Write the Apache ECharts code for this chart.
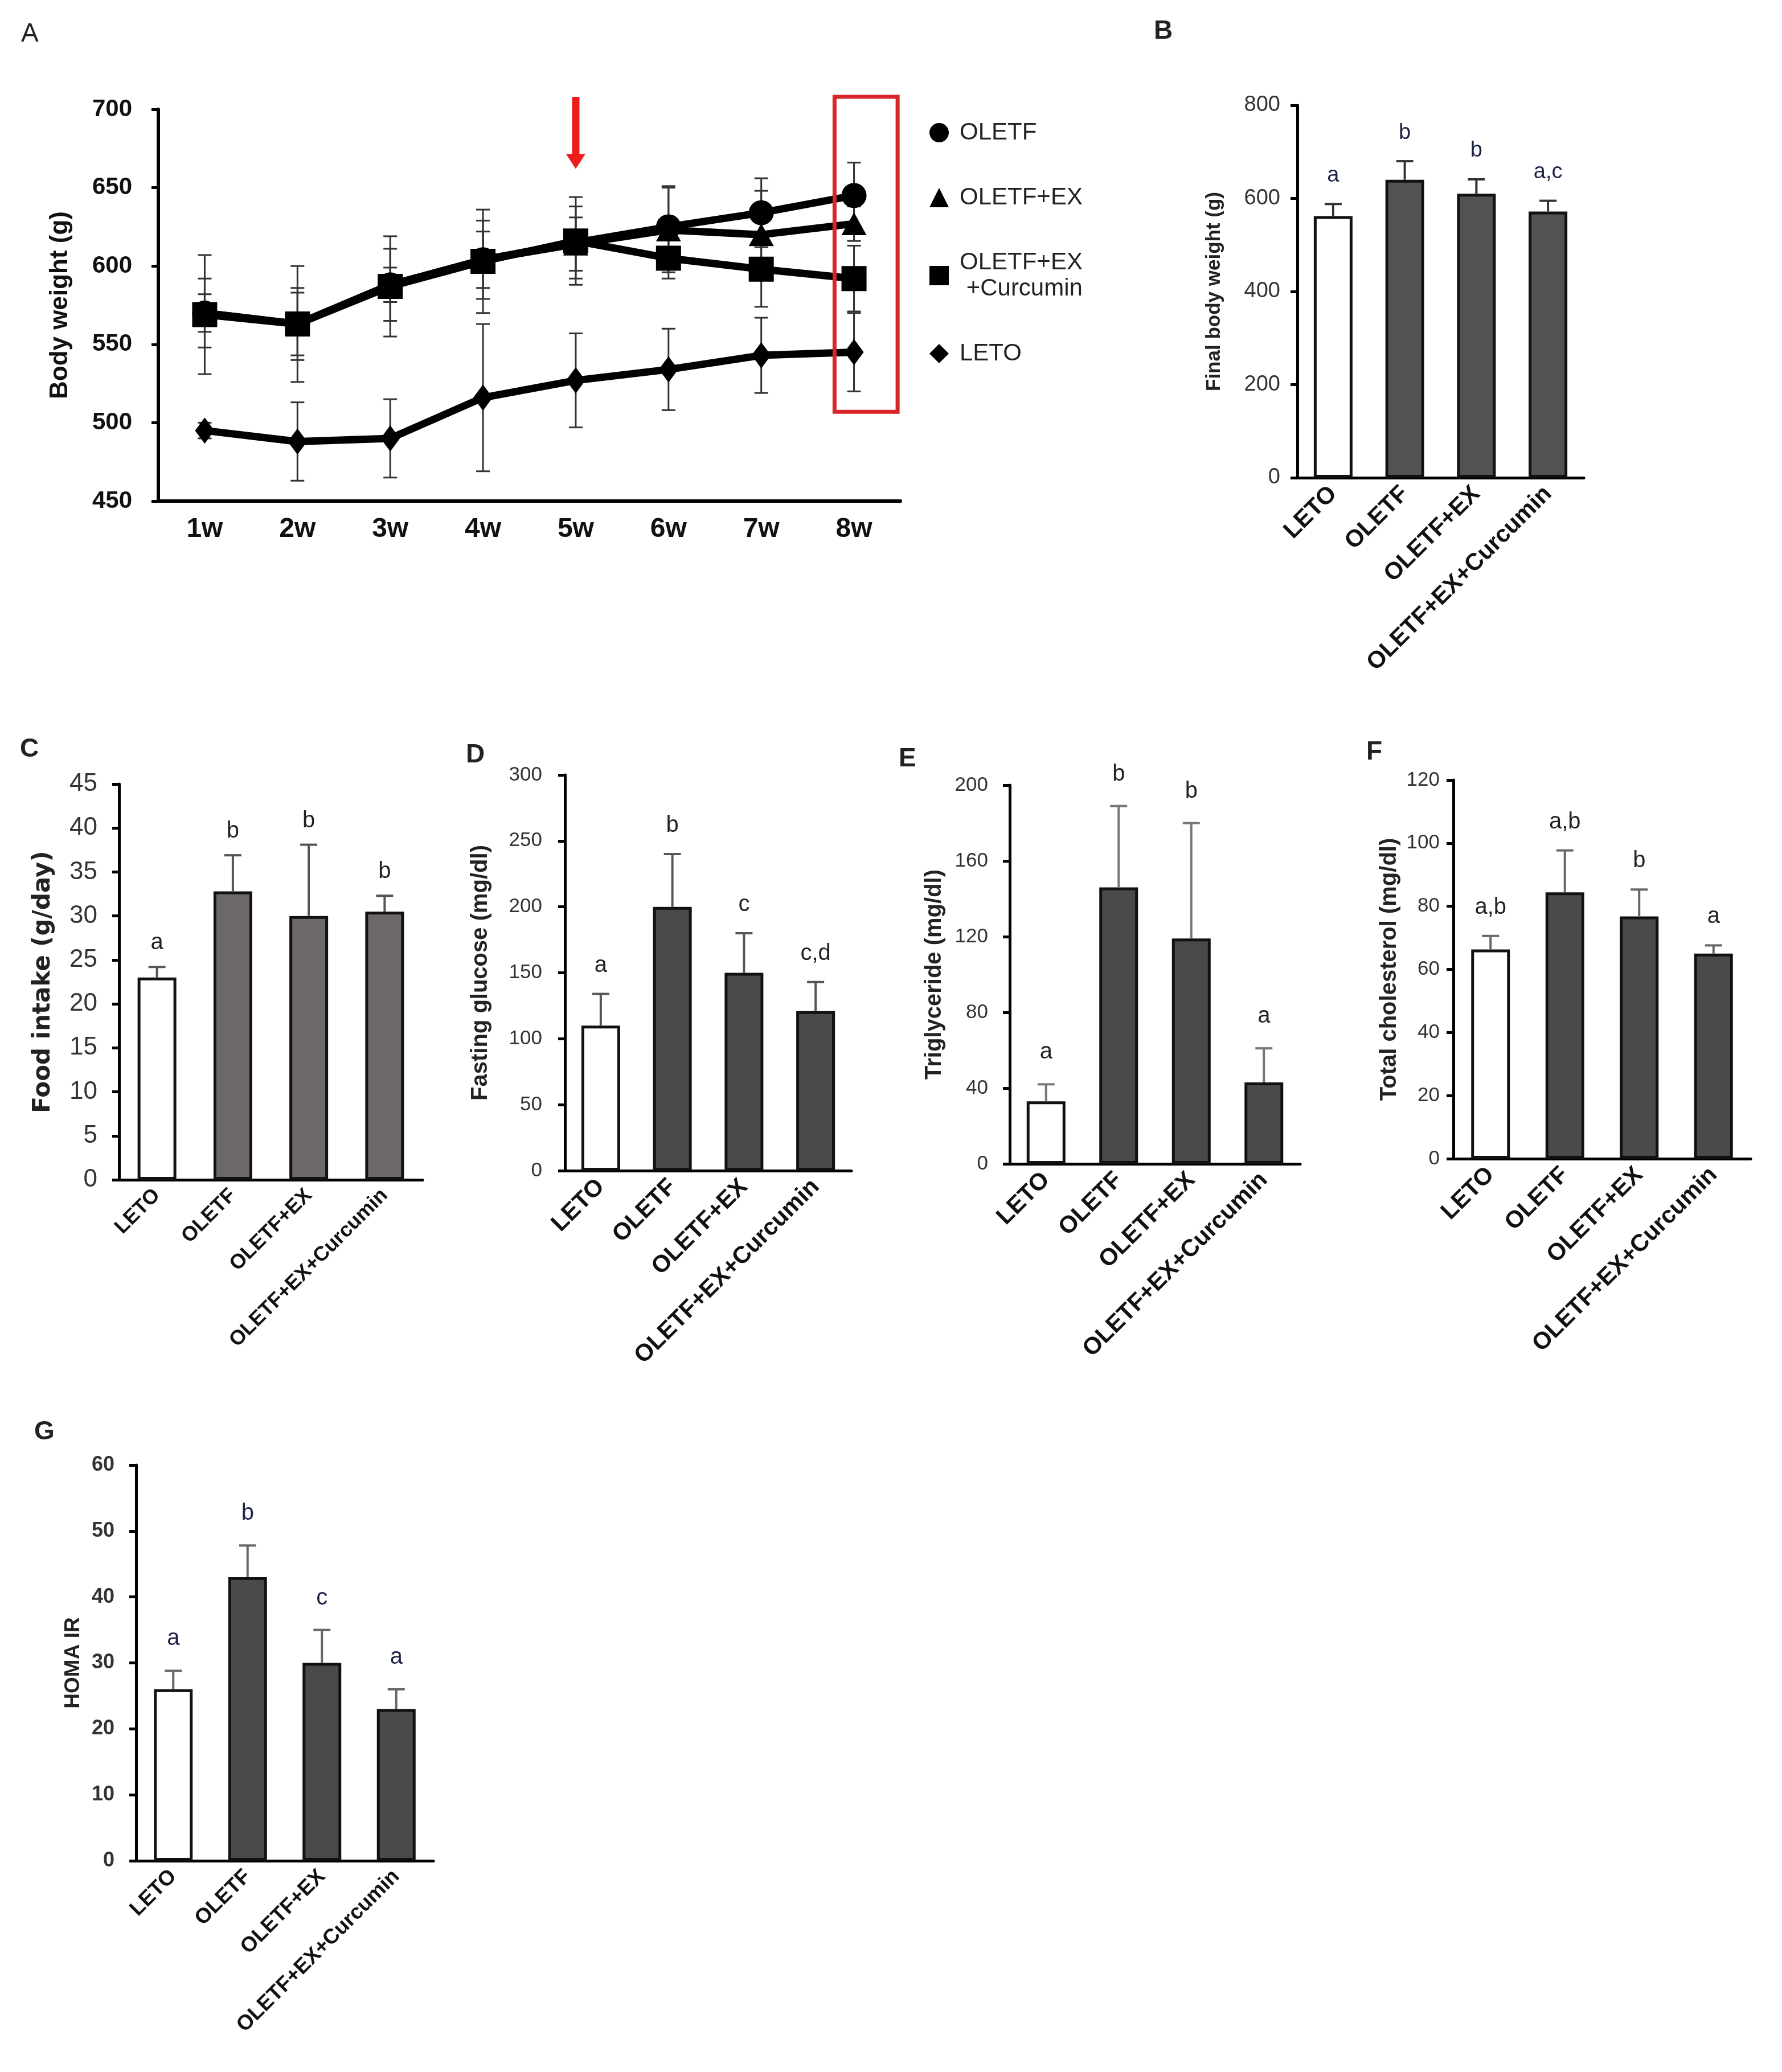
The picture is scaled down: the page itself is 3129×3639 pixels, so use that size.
<!DOCTYPE html>
<html>
<head>
    <meta charset="utf-8">
    <title>OLETF body weight and metabolic markers</title>
    <style>
        *{
            margin: 0;
            padding: 0;
        }
        body{
            background: #fff;
        }
        #main{
            width: 3129px;
            height: 3639px;
        }
    </style>
    <script src="https://cdn.jsdelivr.net/npm/echarts@6/dist/echarts.min.js"></script>
</head>
<body>
    <div id="main"></div>
    <script type="text/javascript">
        // ---- data ----
        // A: body weight (g) per week
        const weeks = ['1w', '2w', '3w', '4w', '5w', '6w', '7w', '8w'];
        const oletfBW = [570, 563, 588, 604, 615, 625, 634, 645];
        const oletfBWErr = [12, 20, 23, 25, 23, 26, 22, 21];
        const oletfExBW = [570, 563, 588, 604, 614, 623, 620, 627];
        const oletfExBWErr = [22, 23, 11, 18, 17, 27, 28, 11];
        const curcBW = [569, 563, 587, 603, 616, 605, 598, 592];
        const curcBWErr = [38, 37, 32, 33, 28, 13, 24, 21];
        const letoBW = [495, 488, 490, 516, 527, 534, 543, 545];
        const letoBWErr = [5, 25, 25, 47, 30, 26, 24, 25];
        // red box around week 8 (g), arrow at week 5
        const boxRange = [7, 507, 708];
        const arrowRange = [4, 708, 662];

        // B-G: four groups
        const groups = ['LETO', 'OLETF', 'OLETF+EX', 'OLETF+EX+Curcumin'];
        const finalBW = [562, 640, 610, 572];
        const finalBWErr = [26, 40, 31, 23];
        const finalBWSig = ['a', 'b', 'b', 'a,c'];
        const food = [23.0, 32.8, 30.0, 30.5];
        const foodErr = [1.2, 4.1, 8.1, 1.8];
        const foodSig = ['a', 'b', 'b', 'b'];
        const glucose = [110, 200, 150, 121];
        const glucoseErr = [24, 40, 30, 22];
        const glucoseSig = ['a', 'b', 'c', 'c,d'];
        const tg = [33, 146, 119, 43];
        const tgErr = [9, 43, 61, 18];
        const tgSig = ['a', 'b', 'b', 'a'];
        const tchol = [66.3, 84.4, 76.8, 65];
        const tcholErr = [4.3, 13.3, 8.5, 2.6];
        const tcholSig = ['a,b', 'a,b', 'b', 'a'];
        const homa = [26, 43, 30, 23];
        const homaErr = [2.8, 4.8, 5, 3];
        const homaSig = ['a', 'b', 'c', 'a'];

        // ---- layout helpers (reference drawn at 1350 wide) ----
        const S = 3129 / 1350;
        const px = v => Math.round(v * S);
        const ARIAL = '"Liberation Sans", Arial, sans-serif';
        const VERD = '"DejaVu Sans", Verdana, sans-serif';

        function gridOf(l, t, r, b) {
            return { left: px(l), top: px(t), width: px(r - l), height: px(b - t) };
        }

        const grids = [];
        const xAxes = [];
        const yAxes = [];
        const series = [];
        const graphics = [];

        // ---- panel A ----
        grids.push(gridOf(120, 83, 682, 380));
        xAxes.push({
            gridIndex: 0, type: 'category', data: weeks,
            axisLine: { lineStyle: { color: '#000', width: 6 } },
            axisTick: { alignWithLabel: true, length: 14, lineStyle: { color: '#000', width: 5 } },
            axisLabel: { color: '#111', fontFamily: ARIAL, fontWeight: 'bold', fontSize: 48, margin: 26 }
        });
        yAxes.push({
            gridIndex: 0, type: 'value', min: 450, max: 700, interval: 50,
            name: 'Body weight (g)', nameLocation: 'middle', nameRotate: 90, nameGap: 150,
            nameTextStyle: { color: '#111', fontFamily: ARIAL, fontWeight: 'bold', fontSize: 44 },
            splitLine: { show: false },
            axisLine: { show: true, lineStyle: { color: '#000', width: 6 } },
            axisTick: { show: true, length: 12, lineStyle: { color: '#000', width: 5 } },
            axisLabel: { color: '#111', fontFamily: ARIAL, fontWeight: 'bold', fontSize: 42, margin: 46 }
        });

        const lineDefs = [
            { name: 'OLETF', vals: oletfBW, errs: oletfBWErr, symbol: 'circle', size: 44 },
            { name: 'OLETF+EX', vals: oletfExBW, errs: oletfExBWErr, symbol: 'triangle', size: [44, 40] },
            { name: 'OLETF+EX+Curcumin', vals: curcBW, errs: curcBWErr, symbol: 'rect', size: 44 },
            { name: 'LETO', vals: letoBW, errs: letoBWErr, symbol: 'diamond', size: [34, 46] }
        ];

        function renderBothErr(params, api) {
            const i = api.value(0);
            const lo = api.coord([i, api.value(1)]);
            const hi = api.coord([i, api.value(2)]);
            const cap = 12;
            const st = { stroke: '#333', lineWidth: 3 };
            return {
                type: 'group', children: [
                    { type: 'line', shape: { x1: lo[0], y1: lo[1], x2: hi[0], y2: hi[1] }, style: st },
                    { type: 'line', shape: { x1: lo[0] - cap, y1: lo[1], x2: lo[0] + cap, y2: lo[1] }, style: st },
                    { type: 'line', shape: { x1: hi[0] - cap, y1: hi[1], x2: hi[0] + cap, y2: hi[1] }, style: st }
                ]
            };
        }

        lineDefs.forEach(d => {
            series.push({
                name: d.name + ' err', type: 'custom', xAxisIndex: 0, yAxisIndex: 0,
                data: d.vals.map((v, i) => [i, v - d.errs[i], v + d.errs[i]]),
                encode: { x: 0, y: [1, 2] },
                renderItem: renderBothErr, z: 1, silent: true
            });
        });
        lineDefs.forEach(d => {
            series.push({
                name: d.name, type: 'line', xAxisIndex: 0, yAxisIndex: 0,
                data: d.vals, symbol: d.symbol, symbolSize: d.size,
                itemStyle: { color: '#000' },
                lineStyle: { color: '#000', width: 13 },
                z: 3
            });
        });

        // red box and arrow (annotations)
        series.push({
            type: 'custom', xAxisIndex: 0, yAxisIndex: 0, silent: true, z: 6,
            data: [boxRange],
            renderItem: function (params, api) {
                const top = api.coord([api.value(0), api.value(2)]);
                const bot = api.coord([api.value(0), api.value(1)]);
                const bw = api.size([1, 0])[0];
                return {
                    type: 'rect',
                    shape: { x: top[0] - 0.21 * bw, y: top[1], width: 0.68 * bw, height: bot[1] - top[1] },
                    style: { fill: 'none', stroke: '#d8262b', lineWidth: 7 }
                };
            }
        });
        series.push({
            type: 'custom', xAxisIndex: 0, yAxisIndex: 0, silent: true, z: 6,
            data: [arrowRange],
            renderItem: function (params, api) {
                const top = api.coord([api.value(0), api.value(1)]);
                const tip = api.coord([api.value(0), api.value(2)]);
                const hh = 26, hw = 17;
                return {
                    type: 'group', children: [
                        { type: 'line', shape: { x1: top[0], y1: top[1], x2: tip[0], y2: tip[1] - hh + 2 },
                          style: { stroke: '#ef1c1c', lineWidth: 13 } },
                        { type: 'polygon', shape: { points: [[tip[0] - hw, tip[1] - hh], [tip[0] + hw, tip[1] - hh], [tip[0], tip[1]]] },
                          style: { fill: '#ef1c1c' } }
                    ]
                };
            }
        });

        // ---- bar panels B-G ----
        const panels = [
            { letter: 'B', box: [983, 80, 1200, 362], max: 800, step: 200, vals: finalBW, errs: finalBWErr, sig: finalBWSig,
              name: 'Final body weight (g)', nameSize: 35, nameGap: 128, nameWeight: 'bold', nameFont: ARIAL,
              tickSize: 38, tickWeight: 'normal', tickMargin: 30, catSize: 42, fill: '#525252',
              errColor: '#333', sigColor: '#1c2247', sigSize: 38, sigGap: 50, labelPos: [874, 14] },
            { letter: 'C', box: [90, 594, 320, 894], max: 45, step: 5, vals: food, errs: foodErr, sig: foodSig,
              name: 'Food intake (g/day)', nameSize: 42, nameGap: 112, nameWeight: 'bold', nameFont: VERD,
              tickSize: 44, tickWeight: 'normal', tickMargin: 38, catSize: 36, fill: '#6d6868',
              errColor: '#555', sigColor: '#222', sigSize: 40, sigGap: 42, labelPos: [15, 558] },
            { letter: 'D', box: [428, 587, 645, 887], max: 300, step: 50, vals: glucose, errs: glucoseErr, sig: glucoseSig,
              name: 'Fasting glucose (mg/dl)', nameSize: 40, nameGap: 128, nameWeight: 'bold', nameFont: ARIAL,
              tickSize: 35, tickWeight: 'normal', tickMargin: 40, catSize: 42, fill: '#4a4a4a',
              errColor: '#555', sigColor: '#222', sigSize: 40, sigGap: 50, labelPos: [353, 562] },
            { letter: 'E', box: [765, 595, 985, 882], max: 200, step: 40, vals: tg, errs: tgErr, sig: tgSig,
              name: 'Triglyceride (mg/dl)', nameSize: 40, nameGap: 112, nameWeight: 'bold', nameFont: ARIAL,
              tickSize: 35, tickWeight: 'normal', tickMargin: 38, catSize: 42, fill: '#4a4a4a',
              errColor: '#777', sigColor: '#222', sigSize: 40, sigGap: 56, labelPos: [681, 565] },
            { letter: 'F', box: [1101, 591, 1326, 878], max: 120, step: 20, vals: tchol, errs: tcholErr, sig: tcholSig,
              name: 'Total cholesterol (mg/dl)', nameSize: 40, nameGap: 92, nameWeight: 'bold', nameFont: ARIAL,
              tickSize: 35, tickWeight: 'normal', tickMargin: 24, catSize: 42, fill: '#4a4a4a',
              errColor: '#666', sigColor: '#222', sigSize: 40, sigGap: 50, labelPos: [1035, 560] },
            { letter: 'G', box: [103, 1110, 328, 1410], max: 60, step: 10, vals: homa, errs: homaErr, sig: homaSig,
              name: 'HOMA IR', nameSize: 37, nameGap: 92, nameWeight: 'bold', nameFont: ARIAL,
              tickSize: 36, tickWeight: 'bold', tickMargin: 38, catSize: 37, fill: '#4a4a4a',
              errColor: '#666', sigColor: '#1c2247', sigSize: 40, sigGap: 56, labelPos: [26, 1075] }
        ];

        function makeUpErr(p) {
            return function (params, api) {
                const i = api.value(0);
                const base = api.coord([i, api.value(1)]);
                const top = api.coord([i, api.value(2)]);
                const cap = 15;
                const st = { stroke: p.errColor, lineWidth: 4 };
                return {
                    type: 'group', children: [
                        { type: 'line', shape: { x1: base[0], y1: base[1], x2: top[0], y2: top[1] }, style: st },
                        { type: 'line', shape: { x1: top[0] - cap, y1: top[1], x2: top[0] + cap, y2: top[1] }, style: st },
                        { type: 'text', x: top[0], y: top[1] - p.sigGap,
                          style: { text: p.sig[params.dataIndex], fill: p.sigColor, fontFamily: ARIAL,
                                   fontSize: p.sigSize, align: 'center', verticalAlign: 'middle' } }
                    ]
                };
            };
        }

        panels.forEach((p, k) => {
            const gi = k + 1;
            grids.push(gridOf(p.box[0], p.box[1], p.box[2], p.box[3]));
            xAxes.push({
                gridIndex: gi, type: 'category', data: groups,
                axisLine: { lineStyle: { color: '#000', width: 5 } },
                axisTick: { length: 12, lineStyle: { color: '#000', width: 5 } },
                axisLabel: { rotate: 45, interval: 0, color: '#111', fontFamily: ARIAL, fontWeight: 'bold',
                             fontSize: p.catSize, margin: 22 }
            });
            yAxes.push({
                gridIndex: gi, type: 'value', min: 0, max: p.max, interval: p.step,
                name: p.name, nameLocation: 'middle', nameRotate: 90, nameGap: p.nameGap,
                nameTextStyle: { color: '#222', fontFamily: p.nameFont, fontWeight: p.nameWeight, fontSize: p.nameSize },
                splitLine: { show: false },
                axisLine: { show: true, lineStyle: { color: '#000', width: 5 } },
                axisTick: { show: true, length: 12, lineStyle: { color: '#000', width: 5 } },
                axisLabel: { color: '#333', fontFamily: ARIAL, fontWeight: p.tickWeight, fontSize: p.tickSize, margin: p.tickMargin }
            });
            series.push({
                type: 'bar', xAxisIndex: gi, yAxisIndex: gi, barWidth: 68,
                data: p.vals.map((v, i) => ({
                    value: v,
                    itemStyle: { color: i === 0 ? '#fff' : p.fill, borderColor: '#111', borderWidth: 5 }
                })),
                z: 2
            });
            series.push({
                type: 'custom', xAxisIndex: gi, yAxisIndex: gi, silent: true, z: 3,
                data: p.vals.map((v, i) => [i, v, v + p.errs[i]]),
                encode: { x: 0, y: [1, 2] },
                renderItem: makeUpErr(p)
            });
        });

        // panel letters
        const letters = [['A', 16, 16, 'normal']].concat(panels.map(p => [p.letter, p.labelPos[0], p.labelPos[1], 'bold']));
        letters.forEach(l => {
            graphics.push({
                type: 'text', left: px(l[1]), top: px(l[2]),
                style: { text: l[0], fill: '#222', fontFamily: ARIAL, fontWeight: l[3], fontSize: 46 }
            });
        });

        const chart = echarts.init(document.getElementById('main'));
        chart.setOption({
            animation: false,
            backgroundColor: '#fff',
            grid: grids,
            xAxis: xAxes,
            yAxis: yAxes,
            legend: {
                orient: 'vertical', left: px(702), top: 205,
                itemWidth: 34, itemHeight: 34, itemGap: 68,
                data: [
                    { name: 'OLETF', icon: 'circle' },
                    { name: 'OLETF+EX', icon: 'triangle' },
                    { name: 'OLETF+EX+Curcumin', icon: 'rect' },
                    { name: 'LETO', icon: 'diamond' }
                ],
                formatter: n => n === 'OLETF+EX+Curcumin' ? 'OLETF+EX\n +Curcumin' : n,
                textStyle: { color: '#222', fontFamily: ARIAL, fontSize: 42, lineHeight: 46, padding: [0, 0, 0, 14] }
            },
            graphic: graphics,
            series: series
        });
    </script>
</body>
</html>
